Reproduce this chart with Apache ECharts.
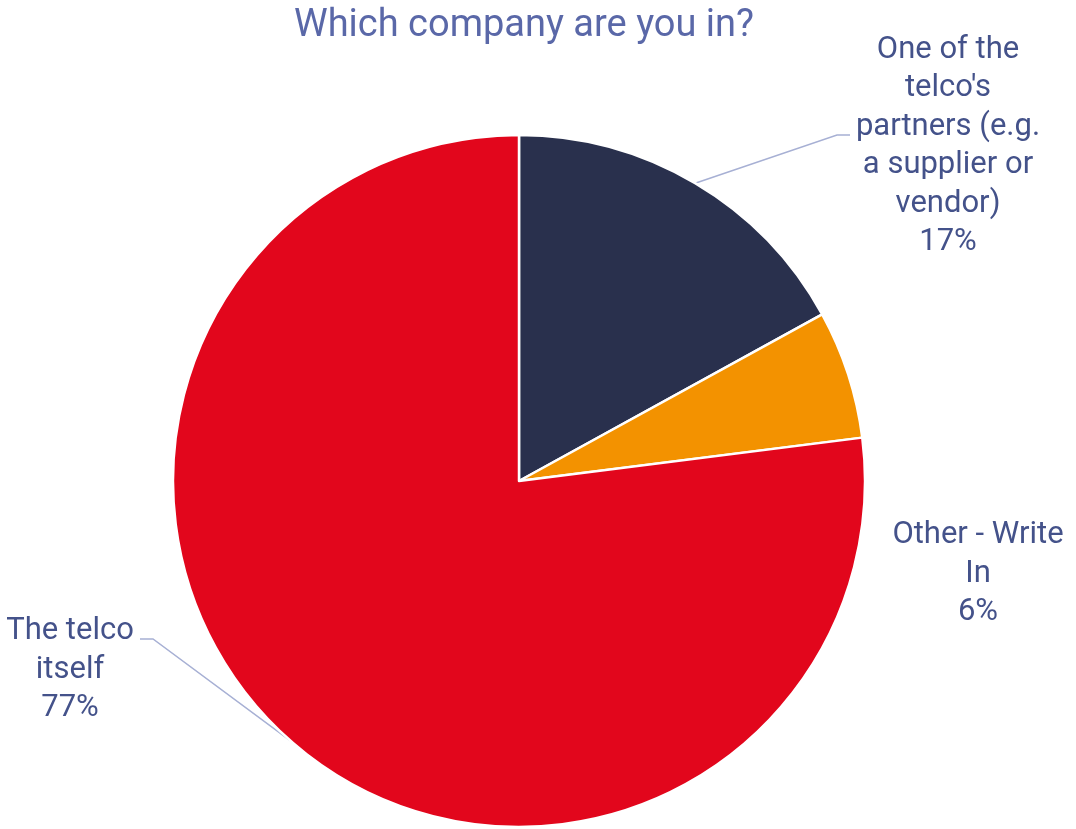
<!DOCTYPE html>
<html>
<head>
<meta charset="utf-8">
<script src="https://cdn.jsdelivr.net/npm/echarts@6/dist/echarts.min.js"></script>
<style>
  html, body { margin: 0; padding: 0; background: #ffffff; }
  #chart { width: 1076px; height: 829px; }
</style>
</head>
<body>
<div id="chart"></div>
<script>
// Survey answers: share of respondents by company type
const categories = [
  "One of the\ntelco's\npartners (e.g.\na supplier or\nvendor)",
  "Other - Write\nIn",
  "The telco\nitself"
];
const shares = [17, 6, 77];
const colors = ['#29304d', '#f39200', '#e2061c'];

// Where each label block sits (center x, center y) and which side its leader line attaches to
const labelSpots = [
  { x: 948, y: 146, line: { side: 'left', row: 135, edge: 855 } },
  { x: 978, y: 574, line: null },
  { x: 70, y: 670, line: { side: 'right', row: 639, edge: 135 } }
];

const chart = echarts.init(document.getElementById('chart'));

chart.setOption({
  animation: false,
  title: {
    text: 'Which company are you in?',
    left: 519,
    textAlign: 'center',
    top: 2,
    textStyle: {
      fontFamily: 'Roboto',
      fontSize: 38,
      fontWeight: 'normal',
      color: '#5a68a8'
    }
  },
  series: [{
    type: 'pie',
    center: [519, 481],
    radius: [0, 346],
    startAngle: 90,
    clockwise: true,
    data: categories.map((name, i) => ({
      name: name,
      value: shares[i],
      itemStyle: { color: colors[i] },
      labelLine: { show: labelSpots[i].line !== null }
    })),
    itemStyle: { borderColor: '#ffffff', borderWidth: 2.5 },
    label: {
      show: true,
      position: 'outside',
      formatter: '{b}\n{c}%',
      fontFamily: 'Roboto',
      fontSize: 31,
      lineHeight: 38.5,
      color: '#44528a',
      align: 'center'
    },
    labelLine: {
      show: true,
      length: 20,
      length2: 10,
      lineStyle: { color: '#a7b0d4', width: 1.5 }
    },
    labelLayout: function (params) {
      const spot = labelSpots[params.dataIndex];
      const out = { x: spot.x, y: spot.y, align: 'center', verticalAlign: 'middle' };
      if (spot.line && params.labelLinePoints) {
        const start = params.labelLinePoints[0];
        const dir = spot.line.side === 'left' ? -1 : 1;
        out.labelLinePoints = [
          start,
          [spot.line.edge + dir * 18, spot.line.row],
          [spot.line.edge + dir * 5, spot.line.row]
        ];
      }
      return out;
    }
  }]
});
</script>
</body>
</html>
